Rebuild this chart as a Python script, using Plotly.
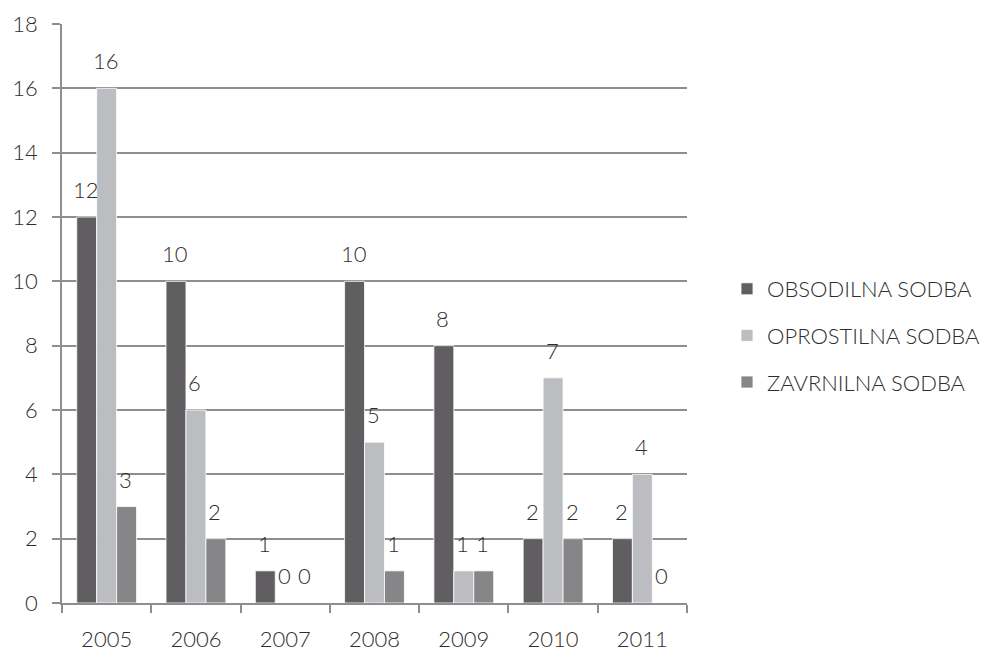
import plotly.graph_objects as go

years = ["2005", "2006", "2007", "2008", "2009", "2010", "2011"]
obsodilna = [12, 10, 1, 10, 8, 2, 2]
oprostilna = [16, 6, 0, 5, 1, 7, 4]
zavrnilna = [3, 2, 0, 1, 1, 2, 0]

series = [
    ("OBSODILNA SODBA", obsodilna, "#605e61"),
    ("OPROSTILNA SODBA", oprostilna, "#bcbdc1"),
    ("ZAVRNILNA SODBA", zavrnilna, "#868688"),
]

FONT = "Lato"
TEXT_COLOR = "#2e2e2e"
GRID = "#8e8e8e"
PLOT_W = 995 - 62 - 308
BARGAP = 0.33

fig = go.Figure()
for name, vals, color in series:
    fig.add_trace(go.Bar(
        x=years, y=vals, name=name, legendgroup=name,
        marker=dict(color=color, line=dict(color="white", width=0.8)),
    ))

# value labels above each bar, offset to the bar's slot inside its group
# (x given as the category index so numeric-looking names stay categories)
slot_px = PLOT_W / len(years) * (1 - BARGAP) / len(series)
for i, (name, vals, color) in enumerate(series):
    for j, v in enumerate(vals):
        fig.add_annotation(
            x=j, y=v, text=str(v), showarrow=False,
            xshift=(i - 1) * slot_px - 1, yshift=12, yanchor="bottom",
            font=dict(family=FONT, size=22, color=TEXT_COLOR, weight=300),
        )

fig.update_layout(
    width=995, height=655,
    margin=dict(l=62, r=308, t=24, b=52, autoexpand=False),
    paper_bgcolor="white", plot_bgcolor="white",
    barmode="group", bargap=BARGAP, bargroupgap=0,
    font=dict(family=FONT, size=22, color=TEXT_COLOR, weight=300),
    showlegend=True,
    legend=dict(
        x=1.064, y=0.462, xanchor="left", yanchor="middle",
        font=dict(family=FONT, size=22, color=TEXT_COLOR, weight=300),
        tracegroupgap=15, itemwidth=30,
    ),
)
fig.update_xaxes(
    type="category", categoryorder="array", categoryarray=years,
    range=[-0.5, len(years) - 0.5], autorange=False, automargin=False,
    showgrid=False,
    showline=True, linecolor=GRID, linewidth=1.5,
    ticks="outside", tickson="boundaries", ticklen=8,
    tickcolor=GRID, tickwidth=1.5, ticklabelstandoff=16,
    tickfont=dict(family=FONT, size=22, color=TEXT_COLOR, weight=300),
)
fig.update_yaxes(
    range=[0, 18], autorange=False, automargin=False, dtick=2,
    showgrid=True, gridcolor=GRID, gridwidth=1.5,
    showline=True, linecolor=GRID, linewidth=1.5,
    ticks="outside", ticklen=8, tickcolor=GRID, tickwidth=1.5,
    ticklabelstandoff=10, zeroline=False,
    tickfont=dict(family=FONT, size=22, color=TEXT_COLOR, weight=300),
)

fig.write_html("out.html")
